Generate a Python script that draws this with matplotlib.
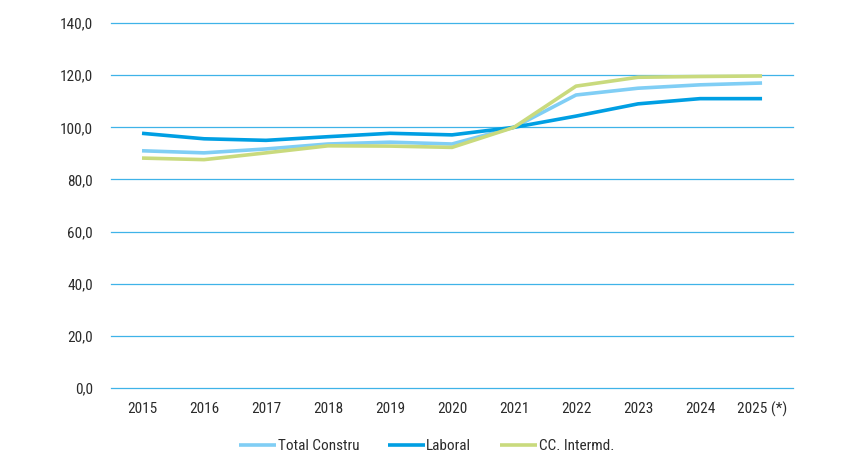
import matplotlib
matplotlib.use("Agg")
import matplotlib.pyplot as plt
from matplotlib import font_manager

years = ["2015", "2016", "2017", "2018", "2019", "2020", "2021", "2022", "2023", "2024", "2025 (*)"]
total_constru = [91.0, 90.2, 91.7, 93.6, 94.3, 93.6, 100.0, 112.4, 115.0, 116.3, 117.0]
laboral = [97.7, 95.6, 95.0, 96.4, 97.7, 97.1, 100.0, 104.3, 109.0, 111.0, 111.0]
cc_intermd = [88.2, 87.6, 90.2, 92.9, 92.8, 92.3, 100.0, 115.8, 119.2, 119.5, 119.7]
y_ticks = [0, 20, 40, 60, 80, 100, 120, 140]

# condensed font if there is one
names = {f.name for f in font_manager.fontManager.ttflist}
fam = "Roboto"
for cand in ["Roboto Condensed", "Liberation Sans Narrow", "Archivo Narrow", "PT Sans Narrow"]:
    if cand in names:
        fam = cand
        break
plt.rcParams['font.family'] = [fam, 'DejaVu Sans']

fig = plt.figure(figsize=(8.5, 4.61), dpi=100)
ax = fig.add_axes([0.1306, 0.1584, 0.8024, 0.7916])

x = list(range(len(years)))
ax.plot(x, total_constru, color="#80cef5", lw=2.6, label="Total Constru", solid_capstyle="butt")
ax.plot(x, laboral, color="#009fe3", lw=2.6, label="Laboral", solid_capstyle="butt")
ax.plot(x, cc_intermd, color="#c9da7d", lw=2.6, label="CC. Intermd.", solid_capstyle="butt")

ax.set_ylim(0, 140)
ax.set_xlim(-0.5, len(years) - 0.5)
ax.set_yticks(y_ticks)
ax.set_yticklabels([("%.1f" % v).replace(".", ",") for v in y_ticks])
ax.set_xticks(x)
ax.set_xticklabels(years)
ax.yaxis.grid(True, color="#3fb3e8", lw=0.9)
for gl in ax.get_ygridlines():
    gl.set_clip_on(False)
ax.set_axisbelow(True)
for s in ax.spines.values():
    s.set_visible(False)
ax.tick_params(axis="both", length=0, labelsize=11, colors="#2b2b2b")
ax.tick_params(axis="y", pad=13)
ax.tick_params(axis="x", pad=10)

leg = fig.legend(loc="center", bbox_to_anchor=(0.502, 0.032), ncol=3, frameon=False,
                 fontsize=11, handlelength=2.4, handletextpad=0.1, columnspacing=1.9)
for t in leg.get_texts():
    t.set_color("#2b2b2b")

fig.savefig("out.png", dpi=100)
